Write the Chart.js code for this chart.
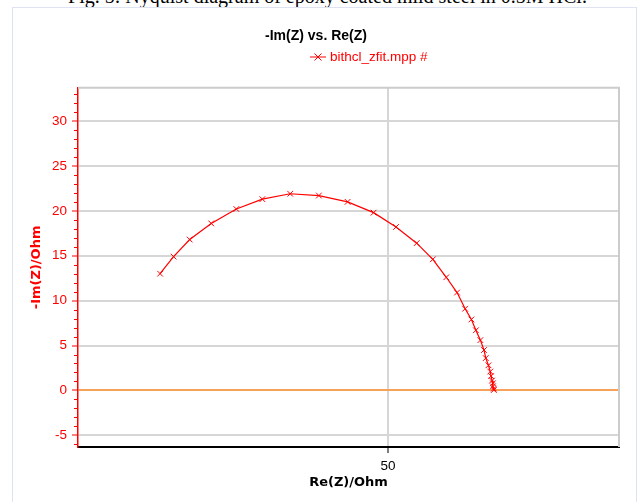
<!DOCTYPE html>
<html>
<head>
<meta charset="utf-8">
<script src="https://cdn.jsdelivr.net/npm/chart.js@4"></script>
<style>
    html, body { margin: 0; padding: 0; background: #fff; overflow: hidden; }
    body { width: 643px; height: 502px; position: relative; }
    #caption {
        position: absolute; top: -14px; left: 12px; width: 631px;
        text-align: center; font: 20px "Liberation Serif", "DejaVu Serif", serif;
        line-height: 20px; color: #000; white-space: nowrap;
    }
    #frame {
        position: absolute; left: 12px; top: 7px; width: 623px; height: 494px;
        border: 1px solid #dde3f3;
    }
    canvas { display: block; }
</style>
</head>
<body>
<div id="caption">Fig. 5: Nyquist diagram of epoxy coated mild steel in 0.5M HCl.</div>
<div id="frame"><canvas id="nyquist" width="623" height="494"></canvas></div>
<script>
// Re(Z) and -Im(Z) in Ohm
const reZ = [24.6, 26.1, 27.9, 30.3, 33.1, 36.0, 39.1, 42.3, 45.5, 48.4,
             50.9, 53.2, 55.0, 56.5, 57.7, 58.6, 59.3, 59.8, 60.3, 60.7,
             60.9, 61.2, 61.4, 61.5, 61.6, 61.7, 61.7, 61.8, 61.8];
const negImZ = [13.0, 14.9, 16.8, 18.6, 20.2, 21.3, 21.9, 21.7, 21.0, 19.8,
                18.2, 16.4, 14.6, 12.6, 10.9, 9.1, 7.9, 6.7, 5.6, 4.5,
                3.6, 2.8, 2.1, 1.6, 1.1, 0.8, 0.45, 0.2, 0.05];
const seriesName = 'bithcl_zfit.mpp #';
const xTicks = [50];
const yTicks = [-6, -5, -4, -3, -2, -1, 0, 1, 2, 3, 4, 5, 6, 7, 8, 9, 10, 11, 12, 13, 14, 15,
                16, 17, 18, 19, 20, 21, 22, 23, 24, 25, 26, 27, 28, 29, 30, 31, 32, 33];

const RED = '#ff0000';
const GRID = '#d6d6d6';
const FONT = 'Arial, "Liberation Sans", sans-serif';
const WIDE = '"DejaVu Sans", Verdana, sans-serif';

const points = reZ.map((x, i) => ({ x: x, y: negImZ[i] }));

// frame of the plot area, minor ticks on the y axis and the legend
const extras = {
    id: 'extras',
    afterDraw(chart) {
        const ctx = chart.ctx;
        const a = chart.chartArea;
        const y = chart.scales.y;
        ctx.save();
        ctx.strokeStyle = '#cccccc';
        ctx.lineWidth = 2;
        ctx.beginPath();
        ctx.moveTo(a.left, a.top);
        ctx.lineTo(a.right, a.top);
        ctx.lineTo(a.right, a.bottom);
        ctx.stroke();

        ctx.strokeStyle = RED;
        ctx.lineWidth = 1;
        yTicks.forEach(v => {
            if (v % 5 === 0) return;
            const py = Math.round(y.getPixelForValue(v)) + 0.5;
            ctx.beginPath();
            ctx.moveTo(a.left - 4, py);
            ctx.lineTo(a.left, py);
            ctx.stroke();
        });

        // legend
        const ly = 49;
        ctx.beginPath();
        ctx.moveTo(297, ly);
        ctx.lineTo(313, ly);
        ctx.moveTo(301.5, ly - 3.5);
        ctx.lineTo(308.5, ly + 3.5);
        ctx.moveTo(301.5, ly + 3.5);
        ctx.lineTo(308.5, ly - 3.5);
        ctx.stroke();
        ctx.fillStyle = RED;
        ctx.font = '13.5px ' + FONT;
        ctx.textBaseline = 'middle';
        ctx.fillText(seriesName, 317, ly);
        ctx.restore();
    }
};

new Chart(document.getElementById('nyquist'), {
    type: 'scatter',
    data: {
        datasets: [{
            label: seriesName,
            data: points,
            showLine: true,
            borderColor: RED,
            borderWidth: 1.2,
            pointStyle: 'crossRot',
            pointRadius: 4,
            pointBorderWidth: 1,
            pointBorderColor: RED,
            tension: 0
        }]
    },
    options: {
        responsive: false,
        animation: false,
        layout: { padding: { left: 0, right: 17, top: 0, bottom: 0 } },
        plugins: {
            legend: { display: false },
            tooltip: { enabled: false },
            title: {
                display: true,
                text: '-Im(Z) vs. Re(Z)',
                color: '#000',
                font: { family: FONT, size: 14, weight: 'bold' },
                padding: { top: 20, bottom: 43 }
            }
        },
        scales: {
            x: {
                type: 'linear',
                min: 15.45,
                max: 75.75,
                afterBuildTicks: s => { s.ticks = xTicks.map(v => ({ value: v })); },
                afterFit: s => { s.height = 55; },
                grid: {
                    color: GRID,
                    lineWidth: 2,
                    drawTicks: true,
                    tickLength: 6,
                    tickColor: '#555',
                    tickWidth: 1.5
                },
                border: { color: '#000', width: 2 },
                ticks: {
                    color: '#000',
                    padding: 5,
                    font: { family: FONT, size: 13.5 }
                },
                title: {
                    display: true,
                    text: 'Re(Z)/Ohm',
                    color: '#000',
                    font: { family: WIDE, size: 13, weight: 'bold' },
                    padding: { top: 0, bottom: 12 }
                }
            },
            y: {
                type: 'linear',
                min: -6.3,
                max: 33.7,
                afterBuildTicks: s => { s.ticks = yTicks.map(v => ({ value: v })); },
                afterFit: s => { s.width = 65; },
                grid: {
                    color: c => {
                        const v = c.tick.value;
                        if (v === 0) return '#f6a25a';
                        return v % 5 === 0 ? GRID : 'rgba(0,0,0,0)';
                    },
                    lineWidth: 2,
                    drawTicks: true,
                    tickLength: 6,
                    tickColor: c => (c.tick.value % 5 === 0 ? RED : 'rgba(0,0,0,0)'),
                    tickWidth: 1
                },
                border: { color: RED, width: 1.5 },
                ticks: {
                    color: RED,
                    padding: 5,
                    autoSkip: false,
                    font: { family: FONT, size: 13.5 },
                    callback: v => (v % 5 === 0 ? String(v) : '')
                },
                title: {
                    display: true,
                    text: '-Im(Z)/Ohm',
                    color: RED,
                    font: { family: WIDE, size: 13, weight: 'bold' },
                    padding: { top: 16, bottom: 0 }
                }
            }
        }
    },
    plugins: [extras]
});
</script>
</body>
</html>
